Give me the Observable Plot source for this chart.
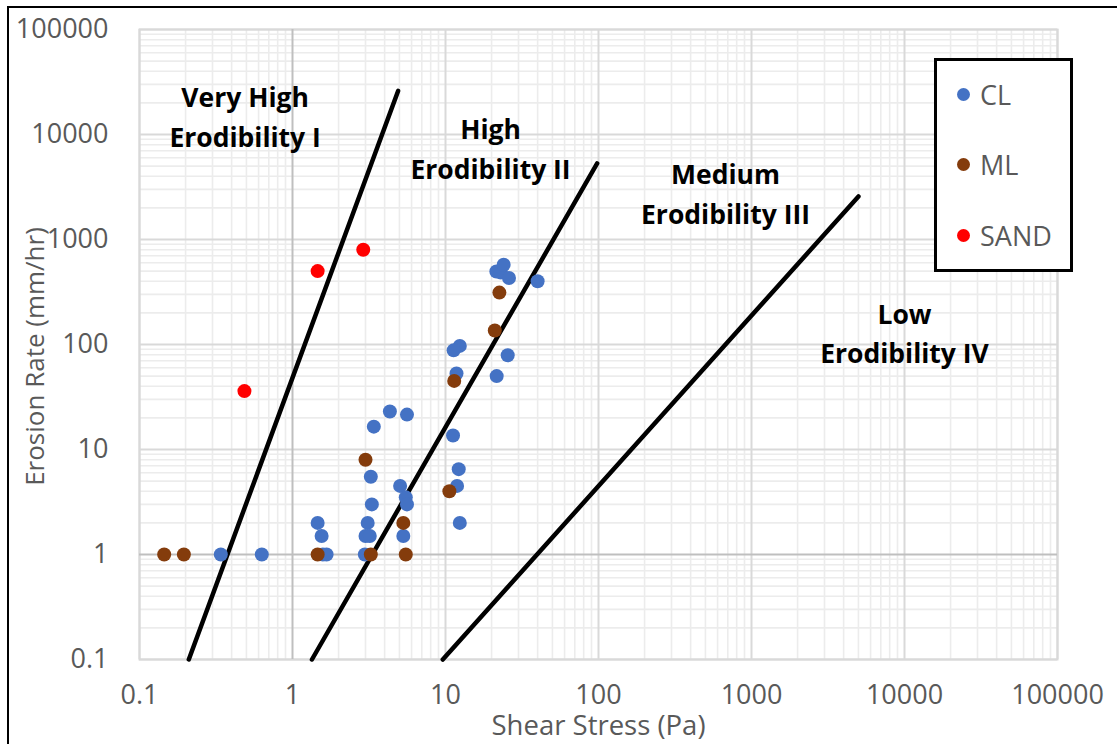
<!DOCTYPE html>
<html><head><meta charset="utf-8">
<script src="https://cdn.jsdelivr.net/npm/d3@7"></script>
<script src="https://cdn.jsdelivr.net/npm/@observablehq/plot@0.6"></script>
<style>
body{margin:0;background:#fff;}
#wrap{position:relative;width:1117px;height:744px;overflow:hidden;background:#fff;}
#frame{position:absolute;left:7px;top:6px;width:1200px;height:800px;border-left:2px solid #000;border-top:2px solid #000;pointer-events:none;}
#legend{position:absolute;left:934px;top:58px;width:133px;height:208px;border:3px solid #000;background:#fff;font-family:"Open Sans",sans-serif;color:#595959;font-size:27px;}
#legend .item{position:absolute;left:20px;display:flex;align-items:center;height:30px;}
#legend .sw{width:13px;height:13px;border-radius:50%;margin-right:10px;}
#chart svg{display:block;}
</style></head>
<body>
<div id="wrap"><div id="chart"></div><div id="legend"></div><div id="frame"></div></div>
<script>
// ---- data ----
const seriesNames = ["CL", "ML", "SAND"];
const seriesColors = ["#4472C4", "#843C0C", "#FF0000"];

const clStress = [0.34, 0.63, 1.46, 1.55, 1.58, 1.67, 3.4, 4.33, 5.6, 3.25, 5.05, 5.5, 5.6, 3.3, 3.1, 3.0, 3.2, 5.3, 2.97,
                  21.5, 23, 24, 26, 40, 12.4, 11.3, 25.5, 11.8, 21.6, 11.2, 12.2, 11.9, 12.4];
const clRate   = [1, 1, 2, 1.5, 1, 1, 16.5, 23, 21.5, 5.5, 4.5, 3.5, 3.0, 3.0, 2, 1.5, 1.5, 1.5, 1,
                  495, 485, 575, 430, 400, 97, 88, 79, 53, 50, 13.6, 6.5, 4.5, 2];

const mlStress = [0.145, 0.195, 1.46, 3.0, 3.25, 5.3, 5.5, 22.5, 21, 11.4, 10.6];
const mlRate   = [1, 1, 1, 8, 1, 2, 1, 312, 136, 45, 4];

const sandStress = [0.485, 1.46, 2.9];
const sandRate   = [36, 500, 800];

const boundaryNames = ["Very High Erodibility I", "High Erodibility II", "Medium Erodibility III"];
const boundaryStress = [[0.21, 4.9], [1.34, 98], [9.6, 5000]];
const boundaryRate   = [[0.1, 26000], [0.1, 5300], [0.1, 2570]];

const zoneLabels = ["Very High\nErodibility I", "High\nErodibility II", "Medium\nErodibility III", "Low\nErodibility IV"];
const zoneStress = [0.49, 19.7, 676, 10000];
const zoneRate   = [15500, 7700, 2870, 135];

const xTicks = [0.1, 1, 10, 100, 1000, 10000, 100000];
const xTickLabels = ["0.1", "1", "10", "100", "1000", "10000", "100000"];
const yTicks = [0.1, 1, 10, 100, 1000, 10000, 100000];
const yTickLabels = ["0.1", "1", "10", "100", "1000", "10000", "100000"];
const xTitle = "Shear Stress (Pa)";
const yTitle = "Erosion Rate (mm/hr)";

// ---- tables ----
const points = [];
[[clStress, clRate], [mlStress, mlRate], [sandStress, sandRate]].forEach(([xs, ys], i) => {
  xs.forEach((v, j) => points.push({series: seriesNames[i], x: v, y: ys[j]}));
});
const boundaries = [];
boundaryNames.forEach((n, i) => boundaryStress[i].forEach((v, j) => boundaries.push({name: n, x: v, y: boundaryRate[i][j]})));
const zones = zoneLabels.map((t, i) => ({text: t, x: zoneStress[i], y: zoneRate[i]}));

// minor grid positions (2..9 within each decade)
const minorX = [], minorY = [];
for (let e = -1; e < 5; e++) for (let k = 2; k <= 9; k++) { minorX.push(k * 10 ** e); minorY.push(k * 10 ** e); }
const majorX = xTicks.filter(v => v !== 1), majorY = yTicks.filter(v => v !== 1);

const fmtX = d => xTickLabels[xTicks.indexOf(d)] ?? "";
const fmtY = d => yTickLabels[yTicks.indexOf(d)] ?? "";

const chart = Plot.plot({
  width: 1117, height: 744,
  marginLeft: 139, marginRight: 60, marginTop: 29, marginBottom: 85,
  style: {fontFamily: "'Open Sans', sans-serif", color: "#595959", background: "#fff"},
  x: {type: "log", domain: [0.1, 100000], label: null},
  y: {type: "log", domain: [0.1, 100000], label: null},
  color: {domain: seriesNames, range: seriesColors},
  marks: [
    Plot.ruleX(minorX, {stroke: "#ececec", strokeWidth: 1.6}),
    Plot.ruleY(minorY, {stroke: "#ececec", strokeWidth: 1.6}),
    Plot.ruleX(majorX, {stroke: "#d9d9d9", strokeWidth: 2}),
    Plot.ruleY(majorY, {stroke: "#d9d9d9", strokeWidth: 2}),
    Plot.frame({stroke: "#d9d9d9", strokeWidth: 2}),
    Plot.ruleX([1], {stroke: "#bfbfbf", strokeWidth: 2}),
    Plot.ruleY([1], {stroke: "#bfbfbf", strokeWidth: 2}),
    Plot.axisX({ticks: xTicks, tickFormat: fmtX, tickSize: 0, tickPadding: 25, fontSize: 27, fill: "#595959", label: null}),
    Plot.axisY({ticks: yTicks, tickFormat: fmtY, tickSize: 0, tickPadding: 31, fontSize: 27, fill: "#595959", label: null}),
    Plot.line(boundaries, {x: "x", y: "y", z: "name", stroke: "#000", strokeWidth: 4.5}),
    Plot.dot(points, {x: "x", y: "y", fill: "series", r: 7}),
    Plot.text(zones, {x: "x", y: "y", text: "text", fontWeight: "bold", fontSize: 26.5, fill: "#000", lineHeight: 1.5}),
    Plot.text([xTitle], {frameAnchor: "bottom", dy: 67, fontSize: 27.5, fill: "#595959", textAnchor: "middle", lineAnchor: "middle"}),
    Plot.text([yTitle], {frameAnchor: "left", dx: -104, dy: 12, rotate: -90, fontSize: 26, fill: "#595959", textAnchor: "middle", lineAnchor: "middle"})
  ]
});
document.getElementById("chart").appendChild(chart);

// legend
const leg = document.getElementById("legend");
const legTops = [18, 88, 159];
seriesNames.forEach((n, i) => {
  const d = document.createElement("div");
  d.className = "item";
  d.style.top = legTops[i] + "px";
  d.innerHTML = `<span class="sw" style="background:${seriesColors[i]}"></span><span>${n}</span>`;
  leg.appendChild(d);
});
</script>
</body></html>
